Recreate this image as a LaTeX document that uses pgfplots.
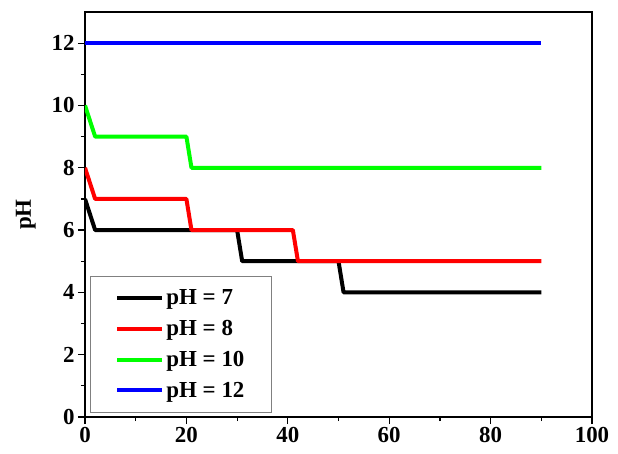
\documentclass[border=0pt]{standalone}
\usepackage{pgfplots}
\pgfplotsset{compat=1.18}
\usepackage{fontspec}
\setmainfont{Liberation Serif}
\definecolor{cgreen}{RGB}{0,255,0}
\definecolor{cred}{RGB}{255,0,0}
\definecolor{cblue}{RGB}{0,0,255}
\begin{document}
\begin{tikzpicture}
\path[use as bounding box] (-85bp,-37bp) rectangle (533bp,417bp);
\begin{axis}[
  at={(0,0)}, anchor=south west,
  scale only axis, width=507bp, height=405bp,
  xmin=0, xmax=100, ymin=0, ymax=13,
  xtick={0,20,...,100}, ytick={0,2,...,12},
  minor xtick={10,30,...,90}, minor ytick={1,3,...,11},
  axis line style={line width=1.2bp},
  tick align=outside, major tick length=7bp, minor tick length=4bp,
  tick style={line width=1.2bp, black},
  xtick pos=bottom, ytick pos=left,
  ticklabel style={font=\fontsize{23}{26}\selectfont\bfseries},
  /pgf/number format/assume math mode=true,
  ylabel={\bfseries pH}, ylabel style={font=\fontsize{23}{26}\selectfont, yshift=9bp},
  legend cell align=left,
  legend style={at={(0.01,0.01)}, anchor=south west, draw=gray, line width=0.8bp, fill=white,
    font=\fontsize{23}{26}\selectfont\bfseries, inner xsep=25bp, inner ysep=12bp,
    row sep=10bp},
  legend image code/.code={\draw[line width=4bp] (0bp,0bp) -- (45bp,0bp);},
  every axis plot/.append style={line width=4bp, line join=round},
]
\addplot[black] coordinates {(0,7) (2,6) (30,6) (31,5) (50,5) (51,4) (90,4)};
\addlegendentry{pH = 7}
\addplot[cred] coordinates {(0,8) (2,7) (20,7) (21,6) (41,6) (42,5) (90,5)};
\addlegendentry{pH = 8}
\addplot[cgreen] coordinates {(0,10) (2,9) (20,9) (21,8) (90,8)};
\addlegendentry{pH = 10}
\addplot[cblue] coordinates {(0,12) (90,12)};
\addlegendentry{pH = 12}
\end{axis}
\end{tikzpicture}
\end{document}
